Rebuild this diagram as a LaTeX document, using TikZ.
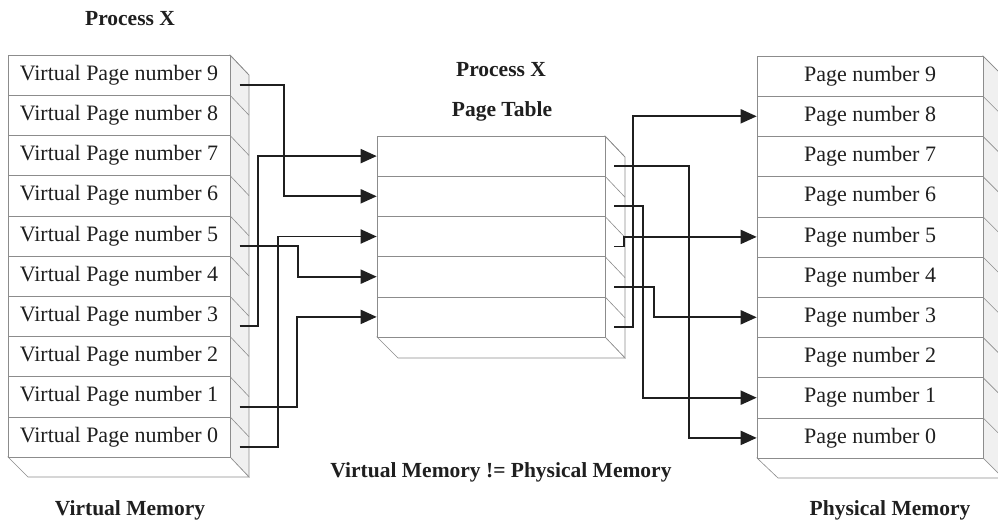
\documentclass[tikz,border=0pt]{standalone}
\usepackage{fontspec}
\setmainfont{Liberation Serif}
\usetikzlibrary{arrows.meta}
\definecolor{edge}{gray}{0.55}
\definecolor{ink}{gray}{0.12}
\definecolor{sideface}{gray}{0.94}
\tikzset{
  cell/.style={draw=edge, line width=0.6pt, fill=white, minimum height=40.2pt,
               inner sep=0pt, text=ink, font=\fontsize{22}{26}\selectfont},
  lcell/.style={cell, minimum width=222pt},
  rcell/.style={cell, minimum width=226pt},
  tcell/.style={cell, minimum width=228pt},
  face/.style={draw=edge, line width=0.6pt, fill=sideface},
  plainface/.style={draw=edge, line width=0.6pt, fill=white},
  rim/.style={draw=edge, line width=0.6pt},
  link/.style={draw=ink, line width=1.9pt, -{Triangle[length=16pt,width=14pt]}},
  title/.style={anchor=base, text=ink, font=\bfseries\fontsize{21.5}{26}\selectfont},
}
\begin{document}
\begin{tikzpicture}[x=1pt,y=-1pt]
\useasboundingbox[fill=white] (0,0) rectangle (998,525);
\clip (0,0) rectangle (998,525);

% ---- virtual memory stack (left) ----
\path[face] (230,55) -- (249,75) -- (249,477) -- (230,457) -- cycle;
\path[plainface] (8,457) -- (230,457) -- (249,477) -- (28,477) -- cycle;
\foreach \i in {0,...,9} {
  \pgfmathsetmacro\yt{55+40.2*(9-\i)}
  \draw[rim] (230,\yt) -- (249,\yt+20);
  \node[lcell] (l\i) at (119,\yt+20.1) {Virtual Page number \i};
  \coordinate (ls\i) at (239.5,\yt+30.1);
}

% ---- physical memory stack (right) ----
\path[face] (983,56) -- (1003,76) -- (1003,478) -- (983,458) -- cycle;
\path[plainface] (757,458) -- (983,458) -- (1003,478) -- (778,478) -- cycle;
\foreach \i in {0,...,9} {
  \pgfmathsetmacro\yt{56+40.2*(9-\i)}
  \draw[rim] (983,\yt) -- (1003,\yt+20);
  \node[rcell] (p\i) at (870,\yt+20.1) {Page number \i};
}

% ---- page table (middle) ----
\path[plainface] (605,136) -- (625,157) -- (625,358) -- (605,337) -- cycle;
\path[plainface] (377,337) -- (605,337) -- (625,358) -- (398,358) -- cycle;
\foreach \i in {1,...,5} {
  \pgfmathsetmacro\yt{136+40.2*(\i-1)}
  \draw[rim] (605,\yt) -- (625,\yt+21);
  \node[tcell] (t\i) at (491,\yt+20.1) {};
  \coordinate (ts\i) at (614,\yt+30.1);
}

% ---- labels ----
\node[title] (procA) at (130,25) {Process X};
\node[title] (procB) at (501,76) {Process X};
\node[title] (ptab) at (502,116) {Page Table};
\node[title] (neq) at (501,477) {Virtual Memory != Physical Memory};
\node[title] (vmem) at (130,515) {Virtual Memory};
\node[title] (pmem) at (890,515) {Physical Memory};

% ---- virtual page -> page table entry ----
\draw[link] (ls9) -- ++(44.5,0) |- (t2.west);
\draw[link] (ls3) -- ++(18.5,0) |- (t1.west);
\draw[link] (ls5) -- ++(58.5,0) |- (t4.west);
\draw[link] (ls0) -- ++(38.5,0) |- (t3.west);
\draw[link] (ls1) -- ++(57.5,0) |- (t5.west);

% ---- page table entry -> physical page ----
\draw[link] (ts1) -- ++(75,0) |- (p0.west);
\draw[link] (ts2) -- ++(29,0) |- (p1.west);
\draw[link] (ts3) -- ++(10,0) |- (p5.west);
\draw[link] (ts4) -- ++(40,0) |- (p3.west);
\draw[link] (ts5) -- ++(19,0) |- (p8.west);
\end{tikzpicture}
\end{document}
